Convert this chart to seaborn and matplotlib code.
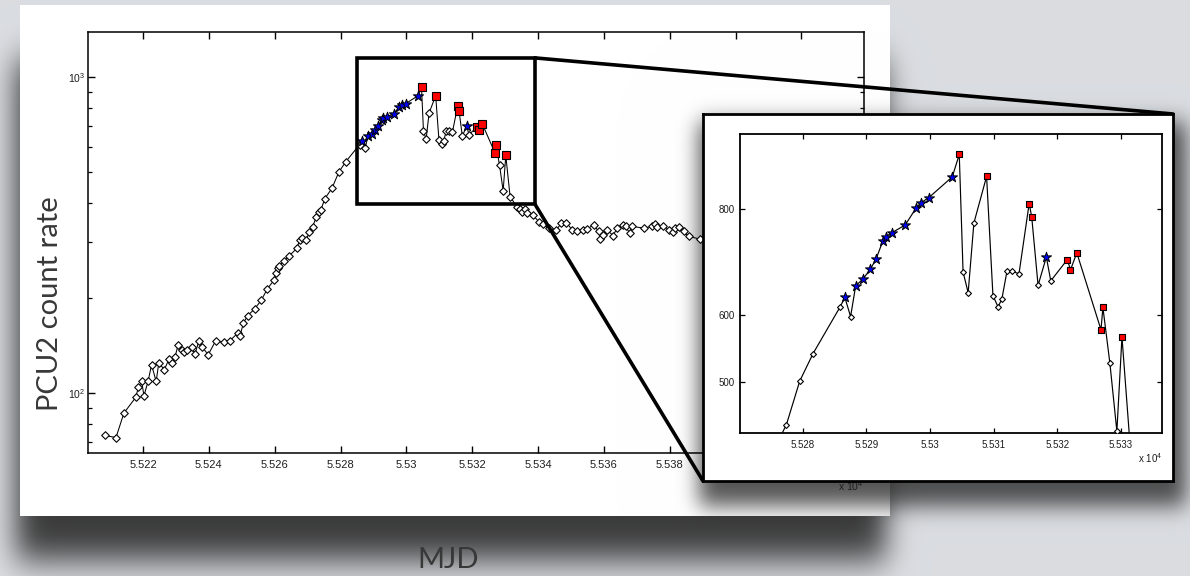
import numpy as np
import pandas as pd
import matplotlib
matplotlib.use("Agg")
import matplotlib.pyplot as plt
import seaborn as sns
from math import erf
from matplotlib.patches import Rectangle, ConnectionPatch
from matplotlib.ticker import FixedLocator, FuncFormatter, NullLocator, LogLocator, NullFormatter

# ---------------------------------------------------------------- data
# MJD of each RXTE observation, PCU2 count rate, and marker class
# (0 = plain observation, 1 = star, 2 = square)
mjd = [
    55208.4, 55211.8, 55214.2, 55217.8, 55218.6, 55219.6, 55220.3, 55221.6,
    55222.6, 55224.0, 55224.8, 55226.5, 55227.9, 55228.7, 55229.7, 55230.7,
    55231.8, 55232.6, 55233.3, 55234.8, 55235.8, 55237.0, 55238.0, 55239.8,
    55242.1, 55244.7, 55246.4, 55248.8, 55249.5, 55250.5, 55251.8, 55253.9,
    55255.9, 55257.8, 55259.8, 55260.3, 55260.9, 55261.3, 55262.9, 55264.3,
    55266.8, 55267.6, 55268.4, 55269.6, 55270.5, 55271.5, 55272.7, 55273.5,
    55274.0, 55275.2,
    55277.4, 55279.5, 55281.6, 55285.8, 55286.6, 55287.5, 55288.3, 55289.5,
    55290.6, 55291.5, 55292.6, 55293.0, 55294.0, 55296.1, 55297.8, 55298.6,
    55299.8, 55303.5, 55304.6, 55305.2, 55306.0, 55306.9, 55308.9, 55309.9,
    55310.7, 55311.3, 55312.1, 55312.9, 55314.0, 55315.6, 55316.0, 55317.0,
    55318.3, 55319.0, 55321.6, 55322.1, 55323.1, 55326.9, 55327.2, 55328.3,
    55329.4, 55330.2, 55331.5,
    55333.6, 55334.4, 55335.1, 55336.1, 55336.6, 55338.5, 55340.2, 55341.4,
    55343.4, 55345.5, 55347.1, 55348.6, 55350.3, 55351.8, 55353.5, 55355.0,
    55356.9, 55358.4, 55358.9, 55359.6, 55360.9, 55362.8, 55364.0, 55365.8,
    55366.6, 55367.8, 55368.5, 55372.1, 55374.6, 55375.6, 55376.1, 55378.1,
    55379.9, 55381.0, 55381.7, 55382.7, 55384.2, 55385.7, 55389.3,
]
rate = [
    73.4, 72.3, 86.4, 96.9, 104.2, 108.9, 98.0, 109.5,
    123.0, 108.8, 124.5, 118.6, 128.2, 124.5, 129.8, 142.3,
    136.4, 134.4, 137.0, 139.4, 132.8, 146.5, 139.9, 132.2,
    146.5, 144.7, 146.5, 154.9, 152.1, 166.6, 175.8, 184.6,
    196.5, 213.9, 227.8, 239.8, 248.7, 253.0, 262.5, 270.9,
    287.8, 305.7, 309.5, 304.3, 324.2, 336.0, 362.0, 375.0,
    378.6, 412.0,
    445, 501, 540, 612, 629, 597, 649, 662,
    679, 698, 734, 742, 750, 766, 802, 814,
    825, 873, 928, 674, 637, 770, 874, 632,
    613, 626, 675, 675, 671, 812, 783, 650,
    702, 658, 697, 678, 710, 576, 612, 526,
    437, 565, 419,
    388, 382, 375.5, 382, 371.5, 365, 349, 343.4,
    332.8, 328, 345, 346.6, 329, 327, 329, 331,
    341, 324.7, 306.8, 316.6, 329, 315, 332.8, 341,
    337, 320.7, 337, 332.8, 337, 343.4, 335, 337,
    329, 322.4, 334, 335, 324.7, 313.5, 307,
]
kind = (
    [0] * 50
    + [0, 0, 0, 0, 1, 0, 1, 1,
       1, 1, 1, 1, 1, 1, 1, 1,
       1, 1, 2, 0, 0, 0, 2, 0,
       0, 0, 0, 0, 0, 2, 2, 0,
       1, 0, 2, 2, 2, 2, 2, 0,
       0, 2, 0]
    + [0] * 39
)

df = pd.DataFrame({"mjd": mjd, "rate": rate, "kind": kind})

main_xticks = list(range(55220, 55421, 20))
inset_xticks = list(range(55280, 55331, 10))
inset_yticks = [500, 600, 800]
zoom_box_x = (55285, 55339)
zoom_box_y = (397, 1151)

# ---------------------------------------------------------------- style
sns.set_theme(style="white")
plt.rcParams["font.family"] = ["Liberation Sans", "DejaVu Sans"]
plt.rcParams["mathtext.fontset"] = "custom"
plt.rcParams["mathtext.rm"] = "Liberation Sans"

W, H, DPI = 1190, 576, 100
fig = plt.figure(figsize=(W / DPI, H / DPI), dpi=DPI)


def soft_band(n, a, b, sigma):
    t = np.arange(n) + 0.5
    f = np.vectorize(erf)
    s = sigma * np.sqrt(2)
    return 0.5 * (f((t - a) / s) - f((t - b) / s))


# slide backdrop: grey canvas, shadowed white sheet, shadow of the inset card
img = np.ones((H, W, 3)) * np.array([0.855, 0.866, 0.882])
dark = np.array([0.16, 0.16, 0.16])
a = np.outer(soft_band(H, 60, 560, 17), soft_band(W, 16, 886, 14)) * 0.9
img = img * (1 - a[..., None]) + dark * a[..., None]
img[5:516, 20:890] = 1.0
a2 = np.outer(soft_band(H, 122, 506, 11), soft_band(W, 699, 1186, 10)) * 0.8
img = img * (1 - a2[..., None]) + dark * a2[..., None]

bg = fig.add_axes([0, 0, 1, 1], zorder=0)
bg.imshow(img, aspect="auto", interpolation="bilinear")
bg.axis("off")

TICK_COLOR = "#1e1e1e"


def draw_curve(ax, diamond_s, star_s, square_s, lw):
    sns.lineplot(data=df, x="mjd", y="rate", sort=False, estimator=None,
                 color="black", linewidth=lw, ax=ax, zorder=2)
    plain = df[df["kind"] == 0]
    stars = df[df["kind"] == 1]
    squares = df[df["kind"] == 2]
    sns.scatterplot(data=plain, x="mjd", y="rate", marker="D", s=diamond_s,
                    color="white", edgecolor="black", linewidth=0.8, ax=ax, zorder=3)
    sns.scatterplot(data=stars, x="mjd", y="rate", marker="*", s=star_s,
                    color="#0000f0", edgecolor="black", linewidth=0.7, ax=ax, zorder=4)
    sns.scatterplot(data=squares, x="mjd", y="rate", marker="s", s=square_s,
                    color="#ff0000", edgecolor="black", linewidth=0.8, ax=ax, zorder=4)
    ax.set_xlabel("")
    ax.set_ylabel("")


def scaled_label(v, pos):
    return f"{v / 1e4:g}"


# ---------------------------------------------------------------- main light curve
ax = fig.add_axes([88 / W, 1 - 453 / H, (864 - 88) / W, (453 - 32) / H], zorder=1)
ax.set_facecolor("none")
draw_curve(ax, 15, 60, 28, 0.75)
ax.set_yscale("log")
ax.set_xlim(55203.3, 55439.0)
ax.set_ylim(64.6, 1390)
ax.xaxis.set_major_locator(FixedLocator(main_xticks))
ax.xaxis.set_major_formatter(FuncFormatter(scaled_label))
ax.xaxis.set_minor_locator(NullLocator())
ax.yaxis.set_major_locator(LogLocator(base=10))
ax.yaxis.set_minor_locator(LogLocator(base=10, subs=np.arange(2, 10)))
ax.yaxis.set_minor_formatter(NullFormatter())
ax.tick_params(which="both", direction="in", top=True, right=True,
               bottom=True, left=True, colors="black", labelcolor=TICK_COLOR)
ax.tick_params(which="major", length=5, width=1.0)
ax.tick_params(which="minor", length=3, width=0.9)
ax.tick_params(axis="x", labelsize=8, pad=5)
ax.tick_params(axis="y", labelsize=7.5, pad=2)
for sp in ax.spines.values():
    sp.set_color("black")
    sp.set_linewidth(1.1)
ax.text(1.0, -0.062, r"x 10$^{4}$", transform=ax.transAxes, ha="right",
        va="top", fontsize=7.5, color=TICK_COLOR)

ax.add_patch(Rectangle((zoom_box_x[0], zoom_box_y[0]),
                       zoom_box_x[1] - zoom_box_x[0], zoom_box_y[1] - zoom_box_y[0],
                       fill=False, edgecolor="black", linewidth=2.6, zorder=6,
                       clip_on=False))

# ---------------------------------------------------------------- inset card
card = fig.add_axes([703 / W, 1 - 481 / H, (1173 - 703) / W, (481 - 114) / H], zorder=3)
card.set_facecolor("white")
card.set_xticks([])
card.set_yticks([])
for sp in card.spines.values():
    sp.set_visible(True)
    sp.set_color("black")
    sp.set_linewidth(2.0)

for xyA, xyB in [((zoom_box_x[1], zoom_box_y[1]), (1, 1)),
                 ((zoom_box_x[1], zoom_box_y[0]), (0, 0))]:
    con = ConnectionPatch(xyA=xyA, coordsA=ax.transData, xyB=xyB,
                          coordsB=card.transAxes, color="black", linewidth=2.6,
                          zorder=2)
    fig.add_artist(con)

ins = fig.add_axes([740 / W, 1 - 433 / H, (1162 - 740) / W, (433 - 134) / H], zorder=4)
ins.set_facecolor("white")
draw_curve(ins, 9, 58, 25, 0.85)
ins.set_yscale("log")
ins.set_xlim(55270.1, 55336.5)
ins.set_ylim(435, 981)
ins.xaxis.set_major_locator(FixedLocator(inset_xticks))
ins.xaxis.set_major_formatter(FuncFormatter(scaled_label))
ins.xaxis.set_minor_locator(NullLocator())
ins.yaxis.set_major_locator(FixedLocator(inset_yticks))
ins.yaxis.set_major_formatter(FuncFormatter(lambda v, p: f"{v:g}"))
ins.yaxis.set_minor_locator(NullLocator())
ins.tick_params(which="both", direction="in", top=True, right=True,
                bottom=True, left=True, colors="black", labelcolor=TICK_COLOR,
                length=3.5, width=0.9, labelsize=7)
ins.tick_params(axis="x", pad=5)
ins.tick_params(axis="y", pad=4)
for sp in ins.spines.values():
    sp.set_color("black")
    sp.set_linewidth(1.3)
ins.text(1.0, -0.06, r"x 10$^{4}$", transform=ins.transAxes, ha="right",
         va="top", fontsize=7, color=TICK_COLOR)

# ---------------------------------------------------------------- slide captions
CAPTION_FONT = ["Lato", "DejaVu Sans"]
fig.text(50 / W, 1 - 304 / H, "PCU2 count rate", rotation=90, ha="center",
         va="center", fontsize=21, family=CAPTION_FONT,
         fontweight="normal", color="#383838", zorder=5)
fig.text(448 / W, 1 - 560 / H, "MJD", ha="center", va="center", fontsize=21,
         family=CAPTION_FONT, fontweight="normal", color="#383838",
         zorder=5)

fig.savefig("out.png", dpi=DPI)
